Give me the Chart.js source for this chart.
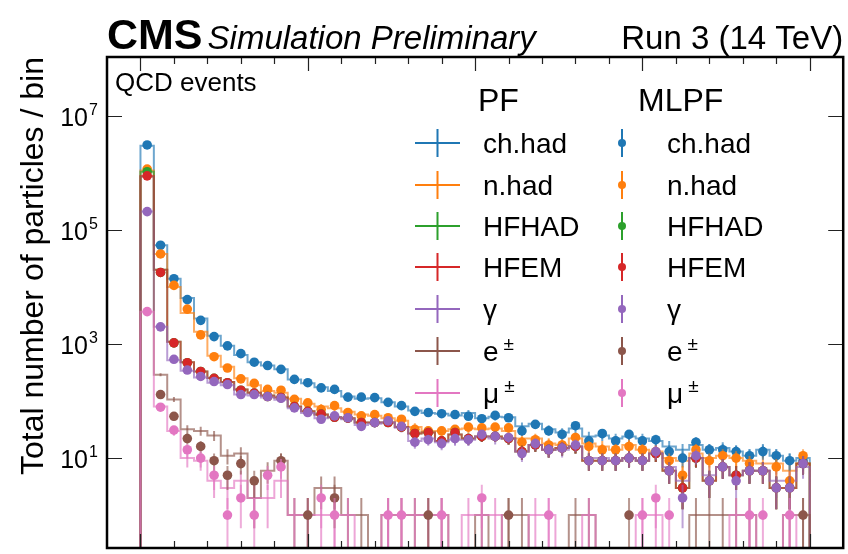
<!DOCTYPE html>
<html>
<head>
<meta charset="utf-8">
<script src="https://cdn.jsdelivr.net/npm/chart.js@4.4.1/dist/chart.umd.min.js"></script>
<style>
html, body { margin: 0; padding: 0; background: #fff; }
canvas { display: block; }
</style>
</head>
<body>
<canvas id="chart" width="848" height="554"></canvas>
<script>
// Number of reconstructed particles per bin in QCD events: PF (step histograms) vs MLPF (markers)
const BIN_WIDTH = 4;
const N_BINS = 50;
const binEdges = Array.from({ length: N_BINS + 1 }, (_, i) => i * BIN_WIDTH);
const binCenters = binEdges.slice(0, -1).map(e => e + BIN_WIDTH / 2);

const speciesLabels = ['ch.had', 'n.had', 'HFHAD', 'HFEM', 'γ', 'e', 'μ'];
const speciesSup = ['', '', '', '', '', '±', '±'];
const speciesColors = ['#1f77b4', '#ff7f0e', '#2ca02c', '#d62728', '#9467bd', '#8c564b', '#e377c2'];

// PF counts per bin
const pfChHad = [3.0e6, 54000, 14000, 6400, 2800, 1400, 930, 640, 480, 420,
  360, 240, 205, 175, 150, 120, 110, 112, 95, 80,
  68, 62, 60, 56, 62, 50, 53, 52, 36, 40,
  32, 28, 33, 24, 25, 22, 24, 22, 20, 16,
  14, 17, 14, 15, 13, 11, 14, 11, 9, 10];
const pfNHad = [1.1e6, 38000, 10000, 3500, 1650, 620, 400, 250, 190, 150,
  140, 110, 90, 80, 75, 65, 58, 55, 50, 45,
  35, 30, 30, 32, 33, 32, 33, 30, 22, 22,
  18, 17, 22, 18, 16, 14, 17, 14, 13, 10,
  9, 12, 10, 11, 10, 9, 8, 8, 6, 8];
const pfHfhad = [1.05e6, 20000, 1100, 480, 330, 255, 215, 160, 140, 125,
  115, 80, 66, 58, 52, 50, 42, 42, 42, 35,
  27, 28, 20, 26, 22, 24, 24, 22, 13, 17,
  14, 15, 16, 9, 9, 9, 10, 9, 12, 6,
  3, 10, 4, 7, 5, 6, 6, 3, 3, 8];
const pfHfem = [8.8e5, 20000, 1100, 480, 330, 255, 215, 160, 140, 125,
  115, 80, 66, 58, 52, 50, 42, 42, 42, 35,
  27, 28, 20, 26, 22, 24, 24, 22, 13, 17,
  14, 15, 16, 9, 9, 9, 10, 9, 12, 6,
  3, 10, 4, 7, 5, 6, 6, 3, 3, 8];
const pfGamma = [2.1e5, 2000, 520, 340, 260, 210, 190, 130, 125, 115,
  105, 75, 62, 50, 52, 48, 38, 40, 42, 34,
  20, 22, 19, 21, 21, 24, 22, 22, 13, 17,
  14, 14, 16, 10, 10, 9, 10, 9, 12, 7,
  4, 10, 5, 7, 5, 6, 6, 4, 4, 7];
const pfEle = [8.6e5, 290, 107, 32, 30, 25, 11, 12, 2, 6,
  9, 1, 1, 3, 3, 1, 1, 0, 1, 1,
  1, 1, 1, 0, 0, 1, 0, 1, 1, 0,
  0, 0, 1, 1, 0, 0, 0, 0, 0, 0,
  0, 1, 1, 1, 1, 1, 0, 0, 1, 1];
const pfMu = [3700, 80, 30, 10, 9, 4, 3, 4, 2, 2,
  4, 1, 1, 1, 1, 1, 0, 0, 1, 1,
  1, 1, 1, 0, 1, 1, 1, 0, 0, 1,
  1, 0, 0, 1, 0, 0, 0, 1, 1, 0,
  0, 0, 0, 0, 1, 1, 0, 0, 1, 0];

// MLPF counts per bin
const mlpfChHad = [3.1e6, 54000, 14000, 6000, 2600, 1350, 930, 680, 480, 420,
  360, 240, 210, 170, 160, 117, 117, 115, 95, 83,
  66, 63, 60, 58, 54, 49, 56, 51, 30, 39,
  30, 26, 37, 20, 27, 20, 26, 20, 21, 13,
  10, 19, 14, 14, 13, 11, 13, 11, 9, 9];
const mlpfNHad = [1.17e6, 38000, 10700, 4100, 1450, 600, 380, 245, 205, 160,
  155, 107, 93, 71, 83, 63, 55, 58, 51, 48,
  32, 30, 30, 32, 35, 34, 35, 34, 19, 21,
  17, 17, 23, 16, 14, 14, 16, 14, 13, 9,
  5, 14, 9, 11, 10, 8, 6, 7, 4, 11];
const mlpfHfhad = [1.05e6, 18000, 1050, 470, 330, 250, 210, 155, 138, 120,
  115, 80, 66, 59, 52, 50, 42, 42, 42, 35,
  27, 28, 20, 28, 22, 24, 24, 22, 13, 17,
  14, 15, 16, 9, 9, 9, 10, 9, 12, 6,
  3, 10, 4, 7, 5, 6, 6, 3, 3, 8];
const mlpfHfem = [8.9e5, 18000, 1050, 470, 330, 250, 210, 155, 138, 120,
  115, 80, 66, 59, 52, 50, 42, 42, 42, 35,
  27, 28, 20, 28, 22, 24, 24, 22, 13, 17,
  14, 15, 16, 9, 9, 9, 10, 9, 12, 6,
  3, 10, 4, 7, 5, 6, 6, 3, 3, 8];
const mlpfGamma = [2.1e5, 2000, 540, 350, 270, 220, 195, 130, 130, 120,
  112, 76, 63, 48, 55, 51, 36, 42, 45, 36,
  19, 21, 18, 22, 21, 26, 24, 23, 12, 18,
  14, 15, 17, 9, 9, 9, 10, 9, 13, 6,
  2, 11, 4, 7, 4, 6, 6, 3, 3, 8];
const mlpfEle = [0, 130, 54, 22, 16, 9, 5, 8, 4, 0,
  9, 0, 1, 0, 2, 0, 0, 0, 0, 0,
  0, 1, 0, 0, 0, 0, 0, 1, 0, 0,
  0, 0, 0, 0, 0, 0, 1, 0, 0, 0,
  0, 0, 0, 0, 0, 0, 0, 0, 0, 1];
const mlpfMu = [3700, 78, 31, 14, 10, 5, 1, 2, 1, 5,
  7, 0, 0, 2, 1, 0, 0, 0, 1, 1,
  0, 0, 1, 0, 0, 2, 0, 0, 0, 0,
  1, 0, 0, 0, 0, 0, 0, 1, 2, 1,
  0, 0, 0, 0, 0, 1, 1, 0, 1, 0];

const pfSeries = [pfChHad, pfNHad, pfHfhad, pfHfem, pfGamma, pfEle, pfMu];
const mlpfSeries = [mlpfChHad, mlpfNHad, mlpfHfhad, mlpfHfem, mlpfGamma, mlpfEle, mlpfMu];

// axis ticks
const yTickExponents = [1, 3, 5, 7];
const xMajorTicks = [0, 50, 100, 150, 200];
const xMinorTicks = [10, 20, 30, 40, 60, 70, 80, 90, 110, 120, 130, 140, 160, 170, 180, 190];

const FLOOR = 1e-3; // empty bins drop below the visible range

function withAlpha(hex, a) {
  const n = parseInt(hex.slice(1), 16);
  return `rgba(${(n >> 16) & 255},${(n >> 8) & 255},${n & 255},${a})`;
}

function stepPoints(vals) {
  const pts = [{ x: binEdges[0], y: FLOOR }];
  vals.forEach((v, i) => pts.push({ x: binEdges[i], y: v > 0 ? v : FLOOR }));
  const last = vals[vals.length - 1];
  pts.push({ x: binEdges[N_BINS], y: last > 0 ? last : FLOOR });
  pts.push({ x: binEdges[N_BINS], y: FLOOR });
  return pts;
}

const datasets = [];
const totalSets = pfSeries.length + mlpfSeries.length;
pfSeries.forEach((vals, k) => {
  datasets.push({
    type: 'line',
    label: 'PF ' + speciesLabels[k],
    data: stepPoints(vals),
    stepped: 'before',
    borderColor: withAlpha(speciesColors[k], 0.65),
    borderWidth: 2,
    pointRadius: 0,
    fill: false,
    clip: 0,
    order: totalSets - k,
    errVals: vals,
    errColor: withAlpha(speciesColors[k], 0.65)
  });
});
mlpfSeries.forEach((vals, k) => {
  datasets.push({
    type: 'scatter',
    label: 'MLPF ' + speciesLabels[k],
    data: vals.map((v, i) => ({ x: binCenters[i], y: v > 0 ? v : null })),
    showLine: false,
    pointRadius: 4.8,
    pointHoverRadius: 4.8,
    pointBackgroundColor: speciesColors[k],
    pointBorderWidth: 0,
    clip: 0,
    order: totalSets - pfSeries.length - k,
    errVals: vals,
    errColor: withAlpha(speciesColors[k], 0.6)
  });
});

const FONT = '"Liberation Sans", Arial, Helvetica, sans-serif';

const decorations = {
  id: 'decorations',
  afterDatasetDraw(chart, args) {
    const ds = chart.data.datasets[args.index];
    if (!ds.errVals) return;
    const { ctx, chartArea: a, scales: { x, y } } = chart;
    ctx.save();
    ctx.beginPath();
    ctx.rect(a.left, a.top, a.right - a.left, a.bottom - a.top);
    ctx.clip();
    ctx.strokeStyle = ds.errColor;
    ctx.lineWidth = 2;
    ds.errVals.forEach((v, i) => {
      if (!(v > 0)) return;
      const e = Math.sqrt(v);
      const lo = v - e > 0 ? v - e : FLOOR;
      const px = x.getPixelForValue(binCenters[i]);
      ctx.beginPath();
      ctx.moveTo(px, y.getPixelForValue(lo));
      ctx.lineTo(px, y.getPixelForValue(v + e));
      ctx.stroke();
    });
    ctx.restore();
  },
  afterDraw(chart) {
    const { ctx, chartArea: a, scales: { x, y } } = chart;
    ctx.save();
    // ticks (inward) on all four sides
    ctx.strokeStyle = '#222';
    ctx.lineWidth = 1.2;
    const xt = (vals, len) => vals.forEach(v => {
      const px = Math.round(x.getPixelForValue(v)) + 0.5;
      ctx.beginPath();
      ctx.moveTo(px, a.bottom); ctx.lineTo(px, a.bottom - len);
      ctx.moveTo(px, a.top); ctx.lineTo(px, a.top + len);
      ctx.stroke();
    });
    xt(xMajorTicks, 14);
    xt(xMinorTicks, 7);
    yTickExponents.forEach(p => {
      const py = Math.round(y.getPixelForValue(Math.pow(10, p))) + 0.5;
      ctx.beginPath();
      ctx.moveTo(a.left, py); ctx.lineTo(a.left + 15, py);
      ctx.moveTo(a.right, py); ctx.lineTo(a.right - 15, py);
      ctx.stroke();
    });
    // frame
    ctx.strokeStyle = '#000';
    ctx.lineWidth = 2.5;
    ctx.strokeRect(a.left, a.top, a.right - a.left, a.bottom - a.top);

    // y tick labels 10^n
    ctx.fillStyle = '#000';
    ctx.textBaseline = 'alphabetic';
    yTickExponents.forEach(p => {
      const py = y.getPixelForValue(Math.pow(10, p));
      ctx.textAlign = 'right';
      ctx.font = `25px ${FONT}`;
      ctx.fillText('10', a.left - 19, py + 10);
      ctx.textAlign = 'left';
      ctx.font = `16px ${FONT}`;
      ctx.fillText(String(p), a.left - 18, py - 1);
    });

    // y axis title
    ctx.save();
    ctx.translate(43, a.top);
    ctx.rotate(-Math.PI / 2);
    ctx.textAlign = 'right';
    ctx.font = `32px ${FONT}`;
    ctx.fillText('Total number of particles / bin', 0, 0);
    ctx.restore();

    // header
    ctx.textAlign = 'left';
    ctx.font = `bold 43px ${FONT}`;
    ctx.fillText('CMS', a.left, 49);
    const cmsW = ctx.measureText('CMS').width;
    ctx.font = `italic 33px ${FONT}`;
    ctx.fillText('Simulation Preliminary', a.left + cmsW + 5, 49);
    ctx.textAlign = 'right';
    ctx.font = `33px ${FONT}`;
    ctx.fillText('Run 3 (14 TeV)', a.right, 49);

    ctx.textAlign = 'left';
    ctx.font = `26px ${FONT}`;
    ctx.fillText('QCD events', 115, 91);

    // legend: PF column (step + error) and MLPF column (marker + error)
    ctx.font = `32px ${FONT}`;
    ctx.fillText('PF', 478, 111);
    ctx.fillText('MLPF', 638, 111);
    const rowY = [143, 185, 226, 267, 309, 351, 393];
    speciesLabels.forEach((lab, k) => {
      const cy = rowY[k];
      ctx.strokeStyle = speciesColors[k];
      ctx.lineWidth = 2;
      ctx.beginPath();
      ctx.moveTo(415, cy); ctx.lineTo(460, cy);
      ctx.moveTo(437.5, cy - 14); ctx.lineTo(437.5, cy + 14);
      ctx.moveTo(622, cy - 14); ctx.lineTo(622, cy + 14);
      ctx.stroke();
      ctx.fillStyle = speciesColors[k];
      ctx.beginPath();
      ctx.arc(622, cy, 4, 0, Math.PI * 2);
      ctx.fill();
      ctx.fillStyle = '#000';
      [483, 667].forEach(lx => {
        ctx.font = `28px ${FONT}`;
        ctx.fillText(lab, lx, cy + 10);
        if (speciesSup[k]) {
          const w = ctx.measureText(lab).width;
          ctx.font = `19px ${FONT}`;
          ctx.fillText(speciesSup[k], lx + w + 5, cy - 1);
        }
      });
    });
    ctx.restore();
  }
};

new Chart(document.getElementById('chart'), {
  type: 'scatter',
  data: { datasets },
  options: {
    responsive: false,
    animation: false,
    devicePixelRatio: 1,
    layout: { padding: { left: 107, right: 3, top: 57, bottom: 6 } },
    plugins: { legend: { display: false }, tooltip: { enabled: false }, title: { display: false } },
    scales: {
      x: { type: 'linear', min: -10, max: 210, display: false },
      y: { type: 'logarithmic', min: 0.265, max: 1.08e8, display: false }
    }
  },
  plugins: [decorations]
});
</script>
</body>
</html>
